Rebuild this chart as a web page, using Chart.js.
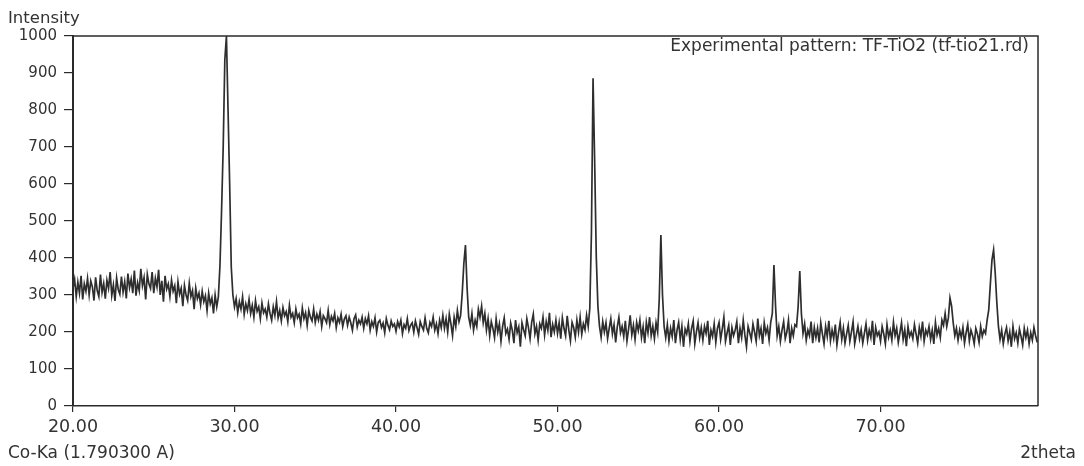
<!DOCTYPE html>
<html>
<head>
<meta charset="utf-8">
<script src="https://cdn.jsdelivr.net/npm/chart.js@4.4.1/dist/chart.umd.min.js"></script>
<style>
  body { margin: 0; background: #fff; }
  canvas { display: block; }
</style>
</head>
<body>
<canvas id="xrd" width="1084" height="466"></canvas>
<script>
// 2theta scan: start angle and step (degrees), one intensity per step
const startAngle = 20.0;
const stepAngle = 0.1;
const intensity = [
  318, 342, 296, 335, 305, 352, 288, 330, 310, 345, // 20
  300, 338, 322, 285, 348, 312, 296, 355, 307, 331, // 21
  290, 340, 318, 362, 299, 327, 284, 346, 315, 302, // 22
  350, 308, 336, 291, 358, 320, 343, 305, 366, 298, // 23
  333, 312, 371, 325, 347, 288, 356, 330, 318, 362, // 24
  305, 345, 322, 368, 300, 338, 282, 352, 316, 330, // 25
  296, 340, 310, 325, 278, 335, 302, 318, 270, 326, // 26
  300, 285, 332, 296, 312, 262, 318, 290, 305, 274, // 27
  310, 282, 298, 258, 305, 276, 292, 250, 300, 268, // 28
  295, 380, 530, 700, 935, 1000, 800, 600, 375, 300, // 29
  268, 290, 252, 282, 262, 295, 248, 276, 258, 288, // 30
  250, 272, 240, 285, 256, 268, 236, 278, 252, 262, // 31
  240, 276, 250, 232, 268, 245, 282, 238, 258, 230, // 32
  266, 244, 255, 228, 272, 240, 250, 225, 262, 238, // 33
  248, 222, 265, 236, 252, 218, 258, 240, 230, 262, // 34
  226, 248, 232, 255, 215, 244, 236, 225, 258, 220, // 35
  242, 230, 250, 212, 238, 226, 248, 215, 235, 244, // 36
  218, 240, 225, 205, 236, 246, 214, 232, 222, 240, // 37
  210, 236, 222, 244, 205, 228, 215, 238, 200, 226, // 38
  232, 212, 224, 198, 236, 218, 206, 230, 215, 222, // 39
  202, 228, 214, 232, 196, 220, 210, 236, 204, 218, // 40
  225, 200, 230, 212, 194, 228, 215, 205, 238, 210, // 41
  198, 226, 215, 240, 205, 222, 196, 232, 212, 245, // 42
  210, 236, 200, 248, 222, 190, 240, 215, 258, 228, // 43
  245, 305, 385, 435, 320, 240, 218, 250, 205, 232, // 44
  215, 262, 240, 270, 225, 250, 205, 236, 190, 228, // 45
  210, 185, 236, 200, 222, 175, 215, 238, 196, 208, // 46
  180, 224, 205, 170, 232, 198, 214, 160, 225, 206, // 47
  190, 236, 212, 182, 226, 248, 195, 215, 178, 222, // 48
  210, 240, 192, 228, 205, 252, 186, 220, 200, 232, // 49
  196, 225, 182, 238, 210, 190, 244, 205, 176, 226, // 50
  212, 186, 232, 200, 240, 194, 222, 206, 245, 215, // 51
  265, 468, 886, 660, 403, 270, 215, 186, 228, 200, // 52
  225, 182, 210, 236, 195, 220, 172, 214, 240, 198, // 53
  215, 188, 230, 176, 208, 245, 192, 218, 180, 226, // 54
  204, 232, 185, 214, 170, 226, 198, 240, 190, 215, // 55
  182, 225, 200, 290, 462, 300, 215, 185, 220, 176, // 56
  210, 188, 232, 170, 205, 226, 180, 215, 160, 208, // 57
  195, 222, 175, 210, 230, 168, 200, 225, 185, 212, // 58
  178, 215, 196, 230, 165, 205, 188, 222, 172, 210, // 59
  226, 180, 208, 240, 175, 198, 218, 165, 212, 190, // 60
  205, 228, 170, 210, 185, 232, 192, 160, 215, 198, // 61
  180, 222, 200, 175, 236, 190, 210, 168, 225, 196, // 62
  212, 178, 226, 250, 381, 270, 190, 215, 175, 205, // 63
  228, 182, 200, 232, 170, 210, 190, 220, 215, 270, // 64
  365, 250, 196, 222, 178, 205, 190, 228, 170, 212, // 65
  185, 210, 172, 225, 195, 168, 215, 188, 230, 176, // 66
  205, 182, 220, 165, 198, 226, 180, 210, 170, 195, // 67
  218, 175, 200, 228, 168, 192, 215, 182, 206, 170, // 68
  196, 222, 178, 205, 185, 230, 165, 212, 190, 200, // 69
  175, 215, 195, 168, 220, 186, 205, 178, 226, 190, // 70
  210, 172, 198, 225, 180, 206, 162, 215, 188, 200, // 71
  182, 220, 195, 170, 212, 188, 228, 175, 205, 192, // 72
  215, 180, 205, 168, 226, 192, 210, 185, 232, 218, // 73
  250, 215, 238, 292, 270, 225, 190, 210, 178, 205, // 74
  185, 212, 170, 198, 220, 176, 205, 190, 168, 210, // 75
  195, 172, 215, 188, 205, 196, 232, 260, 330, 395, // 76
  422, 360, 280, 215, 180, 205, 168, 195, 212, 176, // 77
  200, 160, 215, 182, 198, 170, 208, 188, 165, 210, // 78
  185, 205, 168, 198, 178, 212, 190, 172            // 79
];
const xMin = 20, xMax = 79.75;
const yMin = 0, yMax = 1000;

const legendText = "Experimental pattern: TF-TiO2 (tf-tio21.rd)";
const yTitle = "Intensity";
const xTitle = "2theta";
const radiation = "Co-Ka (1.790300 A)";

const points = intensity.map((v, i) => ({ x: +(startAngle + i * stepAngle).toFixed(2), y: v }));

const ink = "#2b2b2b";
const font = "'DejaVu Sans', Verdana, sans-serif";

// frame lines + loose texts around the plot
const decor = {
  id: "decor",
  afterDraw(chart) {
    const { ctx, chartArea: a } = chart;
    ctx.save();
    ctx.strokeStyle = ink;
    ctx.lineWidth = 1.5;
    ctx.beginPath();
    ctx.moveTo(a.left, a.top);
    ctx.lineTo(a.right, a.top);
    ctx.lineTo(a.right, a.bottom);
    ctx.stroke();

    ctx.fillStyle = "#333";
    ctx.textBaseline = "middle";
    ctx.font = "16.5px " + font;
    ctx.textAlign = "left";
    ctx.fillText(yTitle, 8, 19);
    ctx.font = "17px " + font;
    ctx.fillText(radiation, 8, 454);
    ctx.textAlign = "right";
    ctx.fillText(xTitle, 1076, 454);
    ctx.fillText(legendText, 1029, 47);
    ctx.restore();
  }
};

new Chart(document.getElementById("xrd"), {
  type: "line",
  data: {
    datasets: [{
      label: legendText,
      data: points,
      borderColor: "#2e2e2e",
      borderWidth: 1.7,
      pointRadius: 0,
      tension: 0,
      fill: false
    }]
  },
  options: {
    responsive: false,
    animation: false,
    devicePixelRatio: 1,
    layout: { padding: { left: 0, top: 36, right: 46, bottom: 0 } },
    plugins: { legend: { display: false }, tooltip: { enabled: false } },
    scales: {
      x: {
        type: "linear",
        min: xMin,
        max: xMax,
        afterFit(s) { s.height = 60; },
        grid: { drawOnChartArea: false, tickLength: 6, color: ink, lineWidth: 1.2 },
        border: { color: ink, width: 1.5 },
        ticks: {
          stepSize: 10,
          includeBounds: false,
          maxRotation: 0,
          padding: 5,
          color: "#333",
          font: { family: font, size: 17.5 },
          callback: (v) => v.toFixed(2)
        }
      },
      y: {
        min: yMin,
        max: yMax,
        afterFit(s) { s.width = 73; },
        grid: { drawOnChartArea: false, tickLength: 9, color: ink, lineWidth: 1.2 },
        border: { color: ink, width: 2, dash: [3, 3] },
        ticks: {
          stepSize: 100,
          padding: 7,
          color: "#333",
          font: { family: font, size: 15 },
          callback: (v) => String(v)
        }
      }
    }
  },
  plugins: [decor]
});
</script>
</body>
</html>
